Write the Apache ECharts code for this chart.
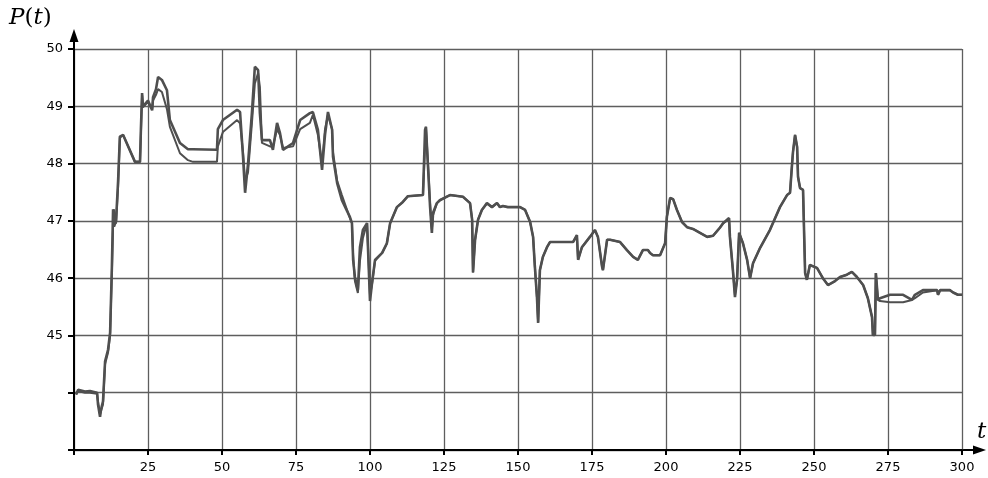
<!DOCTYPE html>
<html>
<head>
<meta charset="utf-8">
<style>
  html, body { margin: 0; padding: 0; background: #fff; }
  #chart { width: 988px; height: 478px; }
</style>
<script src="https://cdn.jsdelivr.net/npm/echarts@6/dist/echarts.min.js"></script>
</head>
<body>
<div id="chart"></div>
<script>
// time points shared by both traces
const tVals = [
  0.7, 1.4, 3.7, 5.4, 7.8, 8.1, 8.8, 9.1, 9.8, 10.5, 11.5, 12.2, 12.8, 13.2, 13.5, 14.2, 14.9, 15.5, 16.6, 20.6,
  22.3, 22.6, 23.0, 23.3, 25.0, 26.4, 26.7, 27.7, 28.4, 29.7, 31.4, 32.4, 35.8, 38.5, 40.2, 48.3, 48.6, 50.3, 55.1, 56.1,
  57.1, 57.8, 58.8, 60.1, 61.1, 62.2, 62.8, 63.5, 66.2, 67.2, 68.6, 69.6, 70.6, 74.0, 76.4, 79.7, 80.7, 82.4, 83.8, 84.8,
  85.8, 87.2, 87.5, 88.9, 90.5, 93.2, 93.9, 94.3, 94.9, 95.9, 96.6, 97.6, 99.0, 100.0, 100.7, 101.7, 104.1, 105.7, 106.8, 109.1,
  111.1, 112.8, 117.9, 118.6, 118.9, 119.6, 120.3, 120.9, 121.3, 122.6, 123.6, 127.0, 131.4, 133.8, 134.5, 134.8, 135.5, 136.5, 137.8, 139.5,
  141.2, 142.9, 143.9, 144.9, 146.6, 150.7, 152.4, 154.1, 155.1, 155.7, 156.4, 156.8, 157.4, 158.4, 159.8, 160.8, 168.6, 169.9, 170.3, 171.6,
  174.3, 176.0, 177.0, 178.4, 178.7, 180.1, 181.1, 184.5, 186.8, 188.9, 190.5, 192.2, 193.9, 194.6, 195.6, 198.0, 199.7, 200.3, 201.4, 202.4,
  203.7, 205.4, 207.1, 209.1, 211.5, 213.9, 215.9, 218.2, 219.3, 221.3, 221.6, 222.6, 223.3, 224.0, 224.7, 226.0, 227.4, 228.4, 229.4, 231.8,
  235.1, 238.5, 240.9, 241.9, 242.6, 242.9, 243.6, 244.3, 244.6, 245.3, 246.3, 247.0, 247.6, 248.6, 251.0, 253.0, 254.7, 257.1, 258.8, 261.1,
  262.8, 264.5, 266.6, 268.2, 269.6, 269.9, 270.6, 270.9, 271.6, 272.3, 275.7, 280.1, 283.1, 284.1, 286.8, 291.6, 291.9, 292.6, 295.9, 297.0,
  298.6, 300
];

// first (outer) trace
const pA = [
  43.97, 44.05, 44.02, 44.03, 44.0, 43.8, 43.58, 43.7, 43.85, 44.55, 44.75, 45.05, 46.2, 47.2, 46.9, 47.0, 47.7, 48.47, 48.5, 48.03,
  48.03, 48.6, 49.23, 49.0, 49.1, 48.93, 49.16, 49.3, 49.51, 49.46, 49.28, 48.76, 48.36, 48.25, 48.25, 48.24, 48.6, 48.76, 48.94, 48.9,
  48.12, 47.49, 48.0, 48.88, 49.69, 49.63, 48.88, 48.41, 48.41, 48.24, 48.71, 48.53, 48.24, 48.36, 48.76, 48.88, 48.9, 48.59, 47.89, 48.5,
  48.9, 48.59, 48.12, 47.66, 47.36, 47.07, 46.96, 46.32, 46.02, 45.79, 46.54, 46.84, 46.96, 45.6, 45.92, 46.32, 46.44, 46.61, 46.96, 47.24,
  47.33, 47.43, 47.45, 48.59, 48.64, 47.94, 47.24, 46.79, 47.14, 47.31, 47.36, 47.45, 47.42, 47.31, 47.02, 46.1, 46.67, 47.02, 47.19, 47.31,
  47.24, 47.31, 47.24, 47.26, 47.24, 47.24, 47.19, 46.98, 46.72, 46.2, 45.67, 45.22, 46.14, 46.37, 46.54, 46.63, 46.63, 46.75, 46.32, 46.54,
  46.72, 46.84, 46.72, 46.2, 46.14, 46.67, 46.67, 46.63, 46.49, 46.37, 46.32, 46.49, 46.49, 46.44, 46.4, 46.4, 46.61, 47.07, 47.4, 47.38,
  47.19, 46.98, 46.89, 46.86, 46.79, 46.72, 46.74, 46.88, 46.96, 47.05, 46.72, 46.14, 45.67, 45.97, 46.79, 46.61, 46.32, 46.0, 46.26, 46.53,
  46.84, 47.24, 47.45, 47.49, 48.0, 48.2, 48.5, 48.29, 47.77, 47.57, 47.54, 46.09, 45.97, 46.23, 46.18, 46.0, 45.88, 45.95, 46.02, 46.06,
  46.11, 46.02, 45.88, 45.65, 45.32, 45.01, 45.01, 46.09, 45.62, 45.65, 45.71, 45.71, 45.62, 45.71, 45.79, 45.79, 45.71, 45.79, 45.79, 45.75,
  45.71, 45.71
];

// second (inner) trace
const pB = [
  43.97, 44.03, 44.0, 44.0, 43.98, 43.85, 43.62, 43.6, 43.8, 44.5, 44.7, 45.0, 46.1, 46.9, 47.2, 46.95, 47.6, 48.45, 48.5, 48.03,
  48.03, 48.5, 49.2, 48.98, 49.08, 48.95, 49.1, 49.2, 49.3, 49.25, 48.95, 48.64, 48.18, 48.06, 48.03, 48.03, 48.3, 48.55, 48.76, 48.7,
  48.2, 47.7, 47.85, 48.7, 49.4, 49.58, 49.34, 48.36, 48.3, 48.3, 48.6, 48.5, 48.27, 48.3, 48.6, 48.71, 48.85, 48.5, 48.0, 48.6,
  48.85, 48.6, 48.2, 47.7, 47.45, 47.05, 46.96, 46.4, 45.95, 45.74, 46.3, 46.7, 46.96, 45.7, 45.9, 46.3, 46.44, 46.6, 46.96, 47.24,
  47.33, 47.43, 47.45, 48.3, 48.64, 48.0, 47.3, 46.85, 47.1, 47.31, 47.36, 47.45, 47.42, 47.31, 47.02, 46.1, 46.67, 47.02, 47.19, 47.3,
  47.24, 47.31, 47.24, 47.26, 47.24, 47.24, 47.19, 46.98, 46.72, 46.2, 45.67, 45.22, 46.14, 46.37, 46.54, 46.63, 46.63, 46.75, 46.32, 46.54,
  46.72, 46.84, 46.72, 46.2, 46.14, 46.67, 46.67, 46.63, 46.49, 46.37, 46.32, 46.49, 46.49, 46.44, 46.4, 46.4, 46.61, 47.07, 47.4, 47.38,
  47.19, 46.98, 46.89, 46.86, 46.79, 46.72, 46.74, 46.88, 46.96, 47.03, 46.72, 46.14, 45.7, 45.97, 46.79, 46.61, 46.32, 46.0, 46.26, 46.53,
  46.84, 47.24, 47.45, 47.49, 48.0, 48.2, 48.5, 48.29, 47.77, 47.57, 47.54, 46.09, 45.97, 46.23, 46.18, 46.0, 45.88, 45.95, 46.02, 46.06,
  46.11, 46.02, 45.88, 45.65, 45.32, 45.01, 45.01, 46.09, 45.62, 45.6, 45.58, 45.58, 45.62, 45.65, 45.75, 45.79, 45.71, 45.79, 45.79, 45.75,
  45.71, 45.71
]

const yLabels = [45, 46, 47, 48, 49, 50]
const xLabels = [25, 50, 75, 100, 125, 150, 175, 200, 225, 250, 275, 300]

const gridLeft = 74, gridTop = 49, gridRight = 26, gridBottom = 28
const W = 988, H = 478
const lineColor = '#4f4f4f'
const gridColor = '#5e5e5e'
const labelFont = 'DejaVu Sans'

const chart = echarts.init(document.getElementById('chart'))

const seriesA = tVals.map((t, i) => [t, pA[i]])
const seriesB = tVals.map((t, i) => [t, pB[i]])

const option = {
  animation: false,
  backgroundColor: '#fff',
  grid: {
    left: gridLeft,
    right: gridRight,
    top: gridTop,
    bottom: gridBottom,
    containLabel: false,
  },
  xAxis: {
    type: 'value',
    min: 0,
    max: 300,
    interval: 25,
    axisLine: { show: true, onZero: false, lineStyle: { color: '#000', width: 2 } },
    axisTick: { show: true, inside: false, length: 5, lineStyle: { color: '#000', width: 2 } },
    axisLabel: {
      color: '#000',
      fontFamily: labelFont,
      fontSize: 13,
      margin: 11,
      formatter: v => (xLabels.includes(v) ? String(v) : ''),
    },
    splitLine: { show: true, lineStyle: { color: gridColor, width: 1.3 } },
  },
  yAxis: {
    type: 'value',
    min: 43,
    max: 50,
    interval: 1,
    axisLine: { show: true, onZero: false, lineStyle: { color: '#000', width: 2 } },
    axisTick: { show: true, inside: false, length: 6, lineStyle: { color: '#000', width: 2 } },
    axisLabel: {
      color: '#000',
      fontFamily: labelFont,
      fontSize: 13,
      margin: 11,
      formatter: v => (yLabels.includes(v) ? String(v) : ''),
    },
    splitLine: {
      show: true,
      lineStyle: { color: gridColor, width: 1.3 },
    },
  },
  series: [
    {
      name: 'B',
      type: 'line',
      data: seriesB,
      showSymbol: false,
      lineStyle: { color: lineColor, width: 2 },
      z: 3,
    },
    {
      name: 'A',
      type: 'line',
      data: seriesA,
      showSymbol: false,
      lineStyle: { color: lineColor, width: 2.6 },
      z: 4,
    },
  ],
  graphic: [
    // y axis extension + arrow
    {
      type: 'line',
      shape: { x1: gridLeft, y1: gridTop, x2: gridLeft, y2: 36 },
      style: { stroke: '#000', lineWidth: 2 },
    },
    {
      type: 'polygon',
      shape: { points: [[gridLeft, 29], [gridLeft - 4.5, 42], [gridLeft + 4.5, 42]] },
      style: { fill: '#000' },
    },
    // x axis extension + arrow
    {
      type: 'line',
      shape: { x1: W - gridRight, y1: H - gridBottom, x2: 978, y2: H - gridBottom },
      style: { stroke: '#000', lineWidth: 2 },
    },
    {
      type: 'polygon',
      shape: { points: [[986, H - gridBottom], [973, H - gridBottom - 4.5], [973, H - gridBottom + 4.5]] },
      style: { fill: '#000' },
    },
    // axis names
    {
      type: 'text',
      left: 9,
      top: 7,
      style: {
        text: '{i|P}{n|(}{i|t}{n|)}',
        rich: {
          i: { fontFamily: 'DejaVu Serif', fontStyle: 'italic', fontSize: 23, fill: '#000' },
          n: { fontFamily: 'DejaVu Serif', fontSize: 23, fill: '#000' },
        },
      },
    },
    {
      type: 'text',
      left: 977,
      top: 421,
      style: { text: 't', fontFamily: 'DejaVu Serif', fontStyle: 'italic', fontSize: 23, fill: '#000' },
    },
  ],
}

chart.setOption(option)
</script>
</body>
</html>
